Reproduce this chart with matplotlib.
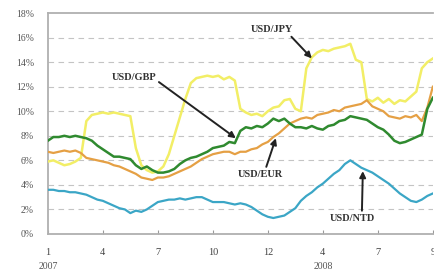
import matplotlib
matplotlib.use("Agg")
import matplotlib.pyplot as plt
import numpy as np

plt.rcParams['font.family'] = ['Liberation Serif', 'DejaVu Serif']

# Weekly-ish observations, Jan 2007 - Sep 2008 (annualised volatility, %)
usd_jpy = [5.9, 6.0, 5.8, 5.6, 5.7, 5.9, 6.2, 9.2, 9.7, 9.8,
           9.9, 9.8, 9.9, 9.8, 9.7, 9.6, 7.0, 5.6, 5.2, 5.0,
           5.1, 5.5, 6.5, 8.0, 9.5, 11.0, 12.3, 12.7, 12.8, 12.9,
           12.8, 12.9, 12.6, 12.8, 12.5, 10.2, 9.9, 9.7, 9.8, 9.6,
           10.0, 10.3, 10.4, 10.9, 11.0, 10.2, 10.0, 13.5, 14.4, 14.8,
           15.0, 14.9, 15.1, 15.2, 15.3, 15.5, 14.2, 14.0, 11.0, 10.8,
           11.1, 10.7, 11.0, 10.6, 10.9, 10.8, 11.2, 11.6, 13.5, 14.0,
           14.3]
usd_eur = [6.7, 6.6, 6.7, 6.8, 6.7, 6.8, 6.6, 6.2, 6.1, 6.0,
           5.9, 5.8, 5.6, 5.5, 5.3, 5.1, 4.9, 4.6, 4.5, 4.4,
           4.6, 4.6, 4.7, 4.9, 5.1, 5.3, 5.5, 5.8, 6.1, 6.3,
           6.5, 6.6, 6.7, 6.7, 6.5, 6.7, 6.7, 6.9, 7.0, 7.3,
           7.5, 7.9, 8.2, 8.6, 9.0, 9.2, 9.4, 9.5, 9.4, 9.7,
           9.8, 9.9, 10.1, 10.0, 10.3, 10.4, 10.5, 10.6, 10.9, 10.4,
           10.2, 10.0, 9.6, 9.5, 9.4, 9.6, 9.5, 9.7, 9.2, 10.3,
           12.0]
usd_gbp = [7.6, 7.9, 7.9, 8.0, 7.9, 8.0, 7.9, 7.8, 7.6, 7.2,
           6.9, 6.6, 6.3, 6.3, 6.2, 6.1, 5.6, 5.3, 5.5, 5.2,
           5.0, 5.0, 5.1, 5.3, 5.7, 6.0, 6.2, 6.3, 6.5, 6.7,
           7.0, 7.1, 7.2, 7.5, 7.4, 8.4, 8.7, 8.6, 8.8, 8.7,
           9.0, 9.4, 9.2, 9.4, 9.0, 8.7, 8.7, 8.6, 8.8, 8.6,
           8.5, 8.8, 8.9, 9.2, 9.3, 9.6, 9.5, 9.4, 9.3, 9.0,
           8.7, 8.5, 8.1, 7.6, 7.4, 7.5, 7.7, 7.9, 8.1, 10.2,
           11.1]
usd_ntd = [3.6, 3.6, 3.5, 3.5, 3.4, 3.4, 3.3, 3.2, 3.0, 2.8,
           2.7, 2.5, 2.3, 2.1, 2.0, 1.7, 1.9, 1.8, 2.0, 2.3,
           2.6, 2.7, 2.8, 2.8, 2.9, 2.8, 2.9, 3.0, 3.0, 2.8,
           2.6, 2.6, 2.6, 2.5, 2.4, 2.5, 2.4, 2.2, 1.9, 1.6,
           1.4, 1.3, 1.4, 1.5, 1.8, 2.1, 2.7, 3.1, 3.4, 3.8,
           4.1, 4.5, 4.9, 5.2, 5.7, 6.0, 5.7, 5.4, 5.2, 5.0,
           4.7, 4.4, 4.1, 3.7, 3.3, 3.0, 2.7, 2.6, 2.8, 3.1,
           3.3]

month_labels = ['1', '4', '7', '10', '12', '4', '7', '9']
year_labels = ['2007', '2008']
y_ticks = [0, 2, 4, 6, 8, 10, 12, 14, 16, 18]

fig = plt.figure(figsize=(4.35, 2.73), dpi=100)
ax = fig.add_axes([0.110, 0.143, 0.885, 0.809])

x = np.arange(len(usd_ntd))
ax.plot(x, usd_jpy, color='#f2ee66', lw=1.8, zorder=3)
ax.plot(x, usd_eur, color='#e5a044', lw=1.6, zorder=4)
ax.plot(x, usd_gbp, color='#2f8a2f', lw=1.8, zorder=5)
ax.plot(x, usd_ntd, color='#3ba6c6', lw=1.6, zorder=4)

ax.set_xlim(0, len(x) - 1)
ax.set_ylim(0, 18)
ax.set_yticks(y_ticks)
ax.set_yticklabels([f'{v}%' for v in y_ticks], fontsize=7, color='#555555')
n_ticks = len(month_labels)
tick_pos = np.linspace(0, len(x) - 1, n_ticks)
ax.set_xticks(tick_pos)
ax.set_xticklabels(month_labels, fontsize=7.5, color='#444444')
ax.tick_params(axis='x', direction='in', length=3, color='#999999', pad=10)
ax.tick_params(axis='y', length=0, pad=10)

for v in y_ticks[1:-1]:
    ax.axhline(v, color='#c4c4c4', lw=0.8, ls=(0, (5, 4)), zorder=1)

for s in ['left', 'bottom', 'top']:
    ax.spines[s].set_color('#b0b0b0')
    ax.spines[s].set_linewidth(1.3)
ax.spines['right'].set_visible(False)

# year labels under first and sixth ticks
ax.text(tick_pos[0], -0.125, year_labels[0], transform=ax.get_xaxis_transform(),
        ha='center', va='top', fontsize=7, color='#555555')
ax.text(tick_pos[5], -0.125, year_labels[1], transform=ax.get_xaxis_transform(),
        ha='center', va='top', fontsize=7, color='#555555')

arrow = dict(arrowstyle='-|>', color='#222222', lw=1.4, mutation_scale=9,
             shrinkA=0, shrinkB=0)
tkw = dict(fontsize=7.5, color='#333333', fontweight='bold')

def d2x(px):
    return (px - 48) / 5.5

def d2y(py):
    return (234 - py) / 12.3

ax.annotate('USD/JPY', xy=(d2x(312), d2y(58)), xytext=(d2x(272), d2y(29)),
            ha='center', va='center', arrowprops=dict(arrow, relpos=(0.9, 0.0)), **tkw)
ax.annotate('USD/GBP', xy=(d2x(236), d2y(138)), xytext=(d2x(134), d2y(77)),
            ha='center', va='center', arrowprops=dict(arrow, relpos=(1.0, 0.2)), **tkw)
ax.annotate('USD/EUR', xy=(d2x(276), d2y(138)), xytext=(d2x(261), d2y(174)),
            ha='center', va='center', arrowprops=dict(arrow, relpos=(0.6, 1.0)), **tkw)
ax.annotate('USD/NTD', xy=(d2x(363), d2y(171)), xytext=(d2x(353), d2y(218)),
            ha='center', va='center', arrowprops=dict(arrow, relpos=(0.7, 1.0)), **tkw)

fig.savefig('out.png', dpi=100)
